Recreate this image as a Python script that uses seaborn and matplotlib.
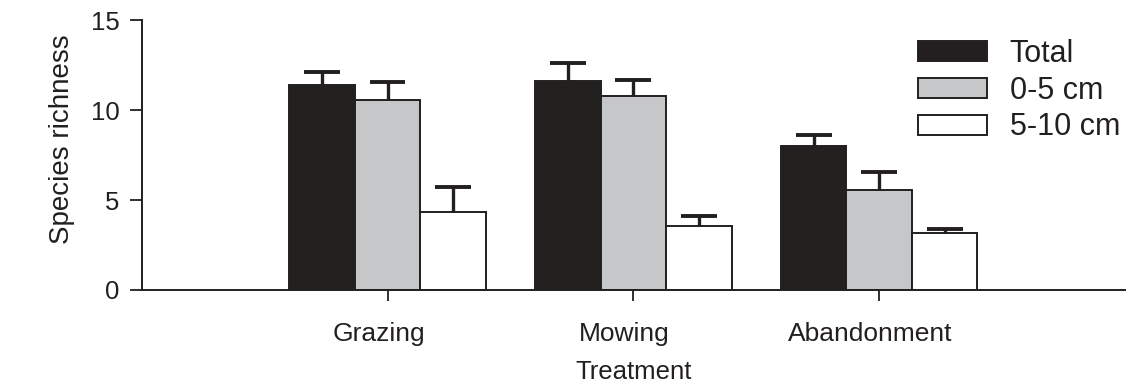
import numpy as np
import pandas as pd
import matplotlib
matplotlib.use("Agg")
import matplotlib.pyplot as plt
import matplotlib.transforms as mtransforms
import seaborn as sns
from matplotlib.patches import Patch

# Mean species richness and upper error (SE) per treatment and soil layer
treatments = ["Grazing", "Mowing", "Abandonment"]
layers = ["Total", "0-5 cm", "5-10 cm"]
total_mean = [11.4, 11.6, 8.0]
total_err = [0.7, 1.0, 0.6]
top_mean = [10.55, 10.8, 5.55]
top_err = [1.0, 0.85, 1.0]
deep_mean = [4.35, 3.55, 3.15]
deep_err = [1.35, 0.55, 0.22]

ink = "#231f20"
fills = {"Total": ink, "0-5 cm": "#c6c7c9", "5-10 cm": "#ffffff"}

rows = []
for layer, means, errs in [("Total", total_mean, total_err),
                           ("0-5 cm", top_mean, top_err),
                           ("5-10 cm", deep_mean, deep_err)]:
    for t, m, e in zip(treatments, means, errs):
        rows.append({"Treatment": t, "Layer": layer, "Richness": m, "Err": e})
df = pd.DataFrame(rows)

sns.set_style("ticks")
plt.rcParams["font.family"] = ["Liberation Sans", "DejaVu Sans"]
plt.rcParams["text.color"] = ink
plt.rcParams["axes.labelcolor"] = ink
plt.rcParams["xtick.color"] = ink
plt.rcParams["ytick.color"] = ink

fig = plt.figure(figsize=(11.32, 3.84), dpi=100)
ax = fig.add_axes([0.1252, 0.2448, 0.8686, 0.7031])

sns.barplot(data=df, x="Treatment", y="Richness", hue="Layer",
            order=treatments, hue_order=layers, palette=fills,
            errorbar=None, width=0.8, gap=0, edgecolor=ink, linewidth=1.4,
            legend=False, ax=ax)

# upward-only error bars: stem from the bar top plus a cap
cap_half = 0.073
for layer, container in zip(layers, ax.containers):
    sub = df[df["Layer"] == layer].set_index("Treatment").loc[treatments]
    xs = np.array([p.get_x() + p.get_width() / 2 for p in container.patches])
    hs = np.array([p.get_height() for p in container.patches])
    tops = hs + sub["Err"].values
    ax.vlines(xs, hs, tops, colors=ink, linewidth=2.4, zorder=1)
    ax.hlines(tops, xs - cap_half, xs + cap_half, colors=ink,
              linewidth=2.8, zorder=1)

ax.set_xlim(-1, 3)
ax.set_ylim(0, 15)
ax.set_yticks([0, 5, 10, 15])
sns.despine(ax=ax)
for s in ["left", "bottom"]:
    ax.spines[s].set_linewidth(1.4)
    ax.spines[s].set_color(ink)
ax.tick_params(axis="y", length=9, width=1.3, labelsize=18.5, pad=7)
ax.tick_params(axis="x", length=8, width=1.3, labelsize=19, pad=15)
ax.set_xlabel("Treatment", fontsize=18.5, labelpad=10)
ax.set_ylabel("Species richness", fontsize=20)
ax.yaxis.set_label_coords(-0.068, 0.56)

# category names sit slightly left of their ticks
shift = mtransforms.ScaledTranslation(-9 / 100, 0, fig.dpi_scale_trans)
for lbl in ax.get_xticklabels():
    lbl.set_transform(lbl.get_transform() + shift)

handles = [Patch(facecolor=fills[l], edgecolor=ink, linewidth=1.4, label=l)
           for l in layers]
fig.legend(handles=handles, loc="upper left",
           bbox_to_anchor=(918 / 1132, 1 - 39 / 384), frameon=False,
           fontsize=22, handlelength=2.25, handleheight=0.62,
           handletextpad=0.75, labelspacing=0.22, borderpad=0,
           borderaxespad=0)

fig.savefig("out.png", dpi=100)
